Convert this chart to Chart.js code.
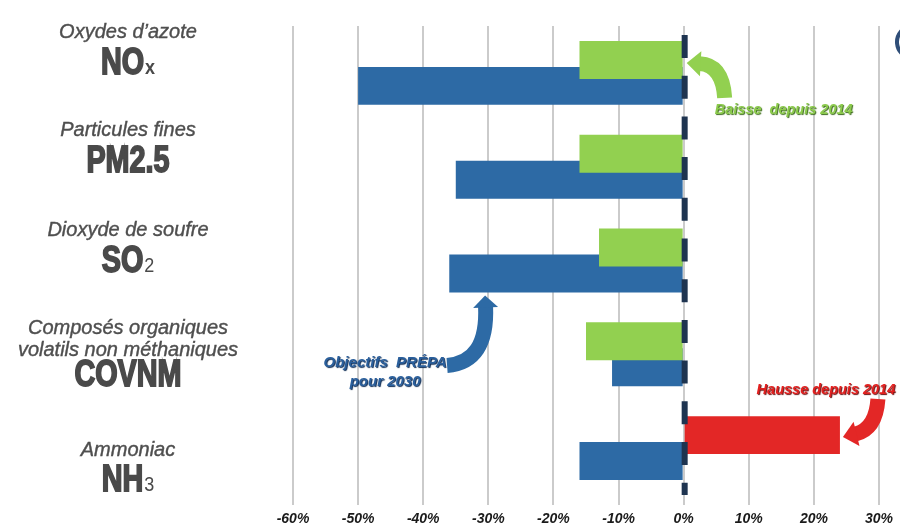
<!DOCTYPE html>
<html>
<head>
<meta charset="utf-8">
<script src="https://cdn.jsdelivr.net/npm/chart.js@4.4.1/dist/chart.umd.min.js"></script>
<style>
  html, body { margin: 0; padding: 0; background: #fff; }
  #wrap { width: 900px; height: 526px; position: relative; }
</style>
</head>
<body>
<div id="wrap"><canvas id="emissions-chart"></canvas></div>
<script>
// polluants, du haut vers le bas
var categories = ['NOx', 'PM2.5', 'SO2', 'COVNM', 'NH3'];
var labelNames = [
  ['Oxydes d\u2019azote'],
  ['Particules fines'],
  ['Dioxyde de soufre'],
  ['Composés organiques', 'volatils non méthaniques'],
  ['Ammoniac']
];
var formulaMain = ['NO', 'PM2.5', 'SO', 'COVNM', 'NH'];
var formulaSub = ['x', '', '2', '', '3'];

// evolution depuis 2014 (%) et objectifs PREPA 2030 (%)
var evolutionSince2014 = [-16, -16, -13, -15, 24];
var objectives2030 = [-50, -35, -36, -11, -16];
var xTicks = [-60, -50, -40, -30, -20, -10, 0, 10, 20, 30];

var GREEN = '#92d050', RED = '#e32726', BLUE = '#2d6aa5', NAVY = '#1e3450';

var ctx = document.getElementById('emissions-chart');

// decalage vertical des libelles par rapport au centre de la categorie
var labelShift = [-40, -36, -30, -26, 2];

var pollutantLabels = {
  id: 'pollutantLabels',
  afterDraw: function(chart) {
    var c = chart.ctx, yScale = chart.scales.y;
    var cx = 128;
    c.save();
    c.textAlign = 'center';
    c.textBaseline = 'middle';
    categories.forEach(function(cat, i) {
      var y = yScale.getPixelForValue(i) + labelShift[i];
      var lines = labelNames[i];
      c.fillStyle = '#4f4f4f';
      c.font = 'italic 20px "Liberation Sans", Arial, sans-serif';
      lines.forEach(function(line, k) {
        c.fillText(line, cx, y + k * 22);
        c.strokeStyle = '#4f4f4f';
        c.lineWidth = 0.4;
        c.strokeText(line, cx, y + k * 22);
      });
      var by = y + (lines.length - 1) * 22 + (lines.length > 1 ? 23 : 28);
      // formule chimique en gras condense
      var sx = 0.8;
      c.font = 'bold 36px "Liberation Sans", Arial, sans-serif';
      var wMain = c.measureText(formulaMain[i]).width * sx;
      var subFont = (formulaSub[i] === 'x' ? 'bold ' : '') + '20px "Liberation Sans", Arial, sans-serif';
      c.font = subFont;
      var wSub = formulaSub[i] ? c.measureText(formulaSub[i]).width * 0.9 + 1 : 0;
      var left = cx - (wMain + wSub) / 2;
      c.save();
      c.translate(left, by);
      c.scale(sx, 1);
      c.textAlign = 'left';
      c.textBaseline = 'alphabetic';
      c.font = 'bold 36px "Liberation Sans", Arial, sans-serif';
      c.fillStyle = '#4a4a4a';
      c.strokeStyle = '#4a4a4a';
      c.lineWidth = 1.8;
      c.fillText(formulaMain[i], 0, 13);
      c.strokeText(formulaMain[i], 0, 13);
      c.restore();
      if (formulaSub[i]) {
        c.save();
        c.translate(left + wMain + 1, by);
        c.scale(0.9, 1);
        c.textAlign = 'left';
        c.textBaseline = 'alphabetic';
        c.font = subFont;
        c.fillStyle = '#4a4a4a';
        c.fillText(formulaSub[i], 0, 13);
        c.restore();
      }
    });
    c.restore();
  }
};

var zeroLine = {
  id: 'zeroLine',
  afterDatasetsDraw: function(chart) {
    var c = chart.ctx, area = chart.chartArea;
    var x = chart.scales.x.getPixelForValue(0) + 1;
    c.save();
    c.strokeStyle = NAVY;
    c.lineWidth = 6;
    c.setLineDash([23, 17.7]);
    c.beginPath();
    c.moveTo(x, area.top + 9);
    c.lineTo(x, area.bottom);
    c.stroke();
    c.restore();
  }
};

function curvedArrow(c, tail, ctrl, tip, shaft, headLen, headWidth, color) {
  var dx = tip.x - ctrl.x, dy = tip.y - ctrl.y;
  var len = Math.sqrt(dx * dx + dy * dy);
  var ux = dx / len, uy = dy / len;
  var neck = { x: tip.x - ux * headLen, y: tip.y - uy * headLen };
  c.save();
  c.strokeStyle = color;
  c.fillStyle = color;
  c.lineWidth = shaft;
  c.lineCap = 'butt';
  c.beginPath();
  c.moveTo(tail.x, tail.y);
  c.quadraticCurveTo(ctrl.x, ctrl.y, neck.x + ux, neck.y + uy);
  c.stroke();
  c.beginPath();
  c.moveTo(tip.x, tip.y);
  c.lineTo(neck.x - uy * headWidth / 2, neck.y + ux * headWidth / 2);
  c.lineTo(neck.x + uy * headWidth / 2, neck.y - ux * headWidth / 2);
  c.closePath();
  c.fill();
  c.restore();
}

function shadowText(c, text, x, y, color, shadow) {
  c.save();
  c.shadowColor = shadow;
  c.shadowOffsetX = 1;
  c.shadowOffsetY = 1;
  c.shadowBlur = 1;
  c.fillStyle = color;
  c.fillText(text, x, y);
  c.restore();
}

var annotations = {
  id: 'annotations',
  afterDraw: function(chart) {
    var c = chart.ctx;
    var xs = chart.scales.x;
    var green = chart.getDatasetMeta(0).data;
    var blue = chart.getDatasetMeta(1).data;
    var x0 = xs.getPixelForValue(0);
    c.save();
    c.textAlign = 'center';
    c.textBaseline = 'alphabetic';

    // baisse depuis 2014
    var gTip = { x: x0 + 3, y: green[0].y + 3 };
    curvedArrow(c, { x: gTip.x + 38, y: gTip.y + 35 }, { x: gTip.x + 36, y: gTip.y + 2 },
      gTip, 15, 14, 25, GREEN);
    c.font = 'italic bold 14.5px "Liberation Sans", Arial, sans-serif';
    shadowText(c, 'Baisse  depuis 2014', x0 + 100, blue[0].y + 28, '#8ccb4c', '#3d6b1d');

    // objectifs PREPA
    var bTip = { x: xs.getPixelForValue(-30.5), y: blue[2].y + blue[2].height / 2 + 3 };
    curvedArrow(c, { x: bTip.x - 38, y: bTip.y + 70 }, { x: bTip.x + 3, y: bTip.y + 67 },
      bTip, 15, 12, 25, BLUE);
    c.font = 'italic bold 15px "Liberation Sans", Arial, sans-serif';
    shadowText(c, 'Objectifs  PRÉPA', bTip.x - 100, bTip.y + 72, '#2a5f9c', '#0f2d55');
    shadowText(c, 'pour 2030', bTip.x - 100, bTip.y + 91, '#2a5f9c', '#0f2d55');

    // hausse depuis 2014
    var rTip = { x: xs.getPixelForValue(24) + 3, y: green[4].y + 2 };
    curvedArrow(c, { x: rTip.x + 35, y: rTip.y - 38 }, { x: rTip.x + 33, y: rTip.y - 8 },
      rTip, 15, 14, 25, RED);
    c.font = 'italic bold 14.5px "Liberation Sans", Arial, sans-serif';
    shadowText(c, 'Hausse depuis 2014', rTip.x - 17, rTip.y - 43, '#e3201f', '#6b0f0f');

    // bord du logo coupe en haut a droite
    c.strokeStyle = '#2f4e78';
    c.lineWidth = 4;
    c.beginPath();
    c.arc(913, 42, 16, Math.PI * 0.72, Math.PI * 1.28);
    c.stroke();
    c.restore();
  }
};

var data = {
  labels: categories,
  datasets: [
    {
      label: 'Évolution depuis 2014',
      data: evolutionSince2014,
      backgroundColor: evolutionSince2014.map(function(v) { return v > 0 ? RED : GREEN; }),
      borderWidth: 0
    },
    {
      label: 'Objectifs PRÉPA 2030',
      data: objectives2030,
      backgroundColor: BLUE,
      borderWidth: 0
    }
  ]
};

var emissionsChart = new Chart(ctx, {
  type: 'bar',
  data: data,
  plugins: [zeroLine, pollutantLabels, annotations],
  options: {
    indexAxis: 'y',
    responsive: true,
    maintainAspectRatio: false,
    animation: false,
    layout: { padding: { left: 293, right: 21, top: 26, bottom: 0 } },
    datasets: {
      bar: { categoryPercentage: 0.554, barPercentage: 1.46 }
    },
    plugins: {
      legend: { display: false },
      tooltip: { enabled: false }
    },
    scales: {
      x: {
        type: 'linear',
        min: -60,
        max: 30,
        afterBuildTicks: function(scale) {
          scale.ticks = xTicks.map(function(v) { return { value: v }; });
        },
        afterFit: function(scale) {
          scale.height = 31;
        },
        ticks: {
          callback: function(v) { return v + '%'; },
          color: '#1a1a1a',
          padding: 6,
          font: { family: '"Liberation Sans", Arial, sans-serif', size: 14, style: 'italic', weight: 'bold' }
        },
        grid: { color: '#cbcbcb', lineWidth: 2, tickLength: 10, drawTicks: true },
        border: { display: false }
      },
      y: {
        type: 'category',
        display: false
      }
    }
  }
});
</script>
</body>
</html>
